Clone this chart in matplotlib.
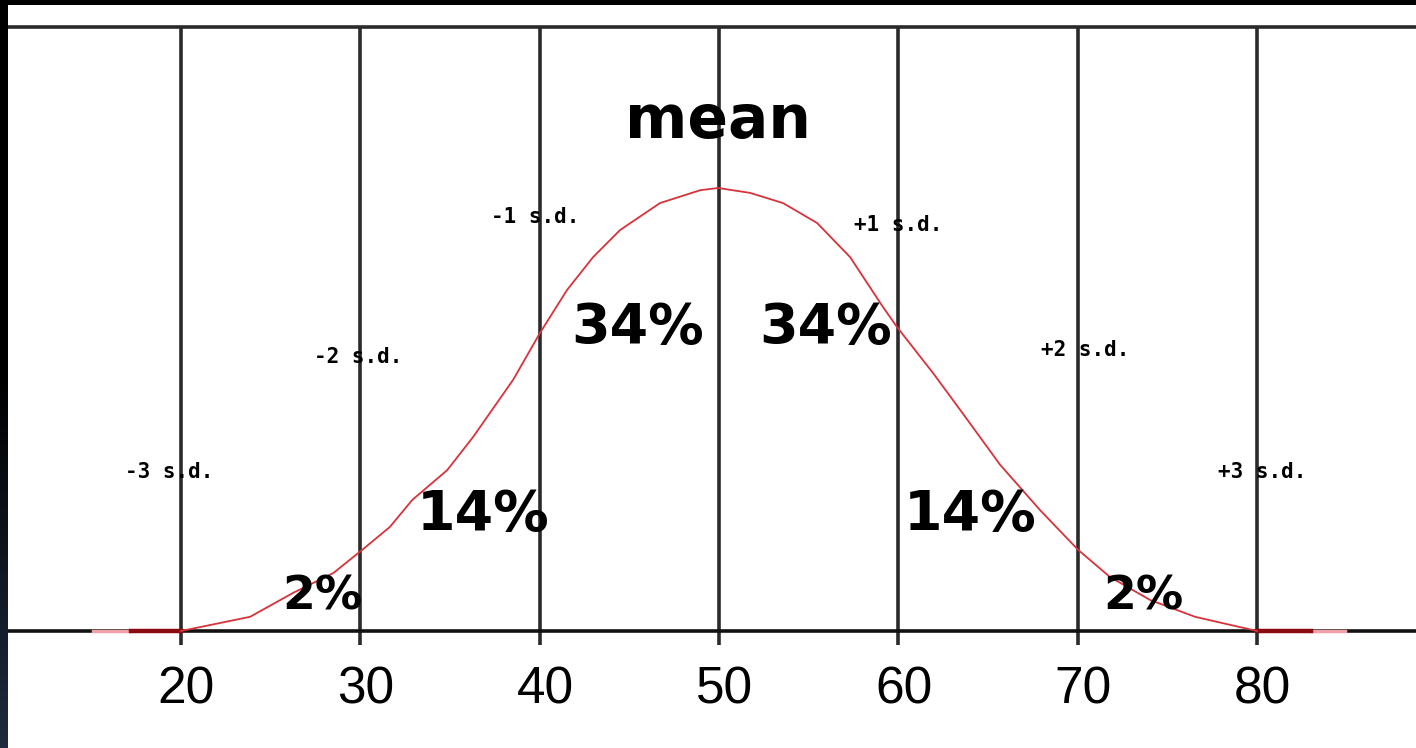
import matplotlib
matplotlib.use("Agg")
import matplotlib.pyplot as plt
import numpy as np

# ---- data ----
tick_values = [20, 30, 40, 50, 60, 70, 80]
tick_labels = ["20", "30", "40", "50", "60", "70", "80"]

# hand-drawn bell curve (x in score units, y relative to peak height)
curve_x = [20.0, 23.85, 26.25, 28.5, 30.1, 31.65, 32.9, 34.84, 36.29, 37.62,
           38.52, 40.02, 41.53, 42.98, 44.48, 46.71, 48.95, 49.95, 51.73,
           53.57, 55.47, 57.31, 59.15, 59.93, 61.94, 63.45, 65.68, 67.9,
           70.03, 71.8, 74.04, 76.55, 80.0]
curve_y = [0.0, 0.032, 0.086, 0.131, 0.183, 0.235, 0.296, 0.363, 0.438, 0.515,
           0.567, 0.673, 0.770, 0.844, 0.905, 0.966, 0.995, 1.0, 0.989,
           0.966, 0.921, 0.844, 0.731, 0.686, 0.582, 0.499, 0.375, 0.273,
           0.183, 0.122, 0.070, 0.032, 0.0]

tail_faint = [(15.1, 17.2), (83.0, 84.9)]
tail_dark = [(17.2, 20.0), (80.0, 83.0)]

sd_labels = ["-3 s.d.", "-2 s.d.", "-1 s.d.", "+1 s.d.", "+2 s.d.", "+3 s.d."]
pct_labels = ["2%", "14%", "34%", "34%", "14%", "2%"]
mean_label = "mean"

# ---- figure ----
W, H, DPI = 1416, 748, 100
fig = plt.figure(figsize=(W / DPI, H / DPI), dpi=DPI, facecolor="black")

# left dark strip with slight navy tint at bottom
strip = fig.add_axes([0, 0, 8 / W, 1])
grad = np.linspace(0, 1, 256).reshape(-1, 1)
strip.imshow(grad, aspect="auto", cmap=matplotlib.colors.LinearSegmentedColormap.from_list(
    "s", ["#000000", "#000000", "#1f2a40"]), extent=[0, 1, 1, 0])
strip.axis("off")

ax = fig.add_axes([8 / W, 0, (W - 8) / W, (H - 5) / H])
ax.set_facecolor("white")
for s in ax.spines.values():
    s.set_visible(False)
ax.set_xticks([])
ax.set_yticks([])

px_per_unit = (1257 - 181) / 60.0
x_left = 20 - (181 - 8) / px_per_unit
x_right = 20 + (1416 - 181) / px_per_unit
y_scale = 443.0
ax.set_xlim(x_left, x_right)
ax.set_ylim(-(748 - 631) / y_scale, (631 - 5) / y_scale)

top_line = (631 - 27) / y_scale
tick_bottom = -(645 - 631) / y_scale

# grid lines
ax.vlines(tick_values, tick_bottom, top_line, colors="#2a2a2a", lw=2.6, zorder=2)
ax.axhline(top_line, color="#2a2a2a", lw=2.6, zorder=2)
ax.axhline(0, color="#111111", lw=2.6, zorder=2)

# curve
ax.plot(curve_x, curve_y, color="#d8323a", lw=1.3, zorder=4)
for a, b in tail_faint:
    ax.plot([a, b], [0, 0], color="#f0a0a8", lw=2.5, zorder=3)
for a, b in tail_dark:
    ax.plot([a, b], [0, 0], color="#8a0c12", lw=3.2, zorder=3)

# tick labels
for v, t in zip(tick_values, tick_labels):
    ax.text(v + 0.3, -(690 - 631) / y_scale, t, ha="center", va="center",
            fontsize=37, family="Liberation Sans", color="black")

# mean label
ax.text(49.94, 1.149, mean_label, ha="center", va="center", fontsize=43,
        fontweight="bold", family="DejaVu Sans", color="black", zorder=5)

# s.d. labels
sd_pos = [(19.33, 0.359), (29.87, 0.619), (39.74, 0.934),
          (59.98, 0.916), (70.41, 0.634), (80.28, 0.359)]
for (x, y), t in zip(sd_pos, sd_labels):
    ax.text(x, y, t, ha="center", va="center", fontsize=15, fontweight="bold",
            family="DejaVu Sans Mono", color="black", zorder=5)

# percentage labels
pct_pos = [(27.86, 0.077), (36.84, 0.262), (45.48, 0.684),
           (55.97, 0.684), (64.0, 0.262), (73.64, 0.077)]
pct_size = [34, 40, 40, 40, 40, 34]
for (x, y), t, fs in zip(pct_pos, pct_labels, pct_size):
    ax.text(x, y, t, ha="center", va="center", fontsize=fs, fontweight="bold",
            family="DejaVu Sans", color="black", zorder=5)

fig.savefig("out.png", dpi=DPI, facecolor=fig.get_facecolor())
